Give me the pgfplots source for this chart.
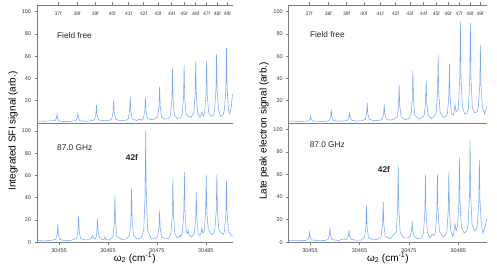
\documentclass[border=0pt]{standalone}
\usepackage{fontspec}
\setmainfont{Liberation Sans}
\usepackage{pgfplots}
\usepackage{pgfplotstable}
\pgfplotsset{compat=1.18}
\definecolor{spec}{RGB}{120,168,252}
\definecolor{ax}{RGB}{125,125,125}
\definecolor{tl}{RGB}{60,60,60}

% x values are omega_2 - 30450 (cm^-1)
\pgfplotstableread{
x y
0.5 1.8
2 1.5
3.5 2
4.19 2.0
4.47 4.1
4.59 8
4.71 4.1
4.99 2.0
6 1.3
7.5 1.5
8.45 2.1
8.73 4.5
8.85 9
8.97 4.5
9.25 2.1
10.5 1.5
11.5 1.8
12.25 2.9
12.53 7.5
12.65 16
12.77 7.5
13.05 2.9
14 2
15.2 2.2
15.76 3.5
16.04 9.4
16.16 20.5
16.28 9.4
16.56 3.5
17.5 2
18.7 2.5
19.14 3.8
19.42 10.8
19.54 24
19.66 10.8
19.94 3.8
20.8 2.2
21.5 3.5
21.9 2.5
22.25 4.1
22.53 10.7
22.65 23
22.77 10.7
23.05 4.1
23.8 3
24.5 3.5
25.15 5.4
25.43 15
25.55 33
25.67 15
25.95 5.4
26.6 3.5
27.4 4
27.78 7.1
28.06 21.7
28.18 49
28.30 21.7
28.58 7.1
29.2 4
29.9 5
30.16 7.8
30.44 23.2
30.56 52
30.68 23.2
30.96 7.8
31.5 6
32.0 5
32.53 9
32.81 25
32.93 55
33.05 25
33.33 9
33.8 5
34.2 10
34.5 6
34.76 10
35.04 26.4
35.16 57
35.28 26.4
35.56 10
36.0 6
36.5 7
36.79 11.4
37.07 29
37.19 62
37.31 29
37.59 12
38.0 6
38.6 8
38.82 12.7
39.10 31.6
39.22 67
39.34 31.6
39.62 12
39.9 8
40.2 15
40.45 26
}\LT

\pgfplotstableread{
x y
0.5 1.5
2 1.3
3.5 1.8
4.34 2.7
4.62 7.3
4.74 16
4.86 7.3
5.14 2.7
6 1.5
7.5 1.8
8.6 3.3
8.88 10.5
9.0 24
9.12 10.5
9.4 3.3
10.5 2
11.3 3
11.6 4
11.84 6
12.1 3.5
12.4 3
12.6 5
12.73 10.2
12.85 21
12.97 10.2
13.25 4.4
13.9 2
14.25 3
14.39 5
14.55 2.5
15.3 2
16.02 5.2
16.30 18
16.42 42
16.54 18
16.82 5.2
17.8 2.5
18.8 3
19.41 6.1
19.69 20.7
19.81 48
19.93 20.7
20.21 6.1
21 3
21.8 4
22.31 10.8
22.59 41.8
22.71 100
22.83 41.8
23.11 10.8
23.8 3.5
24.6 3
25.15 5
25.43 13
25.55 28
25.67 13
25.95 5
26.7 3
27.4 3.5
27.87 7.8
28.15 24.9
28.27 57
28.39 24.9
28.67 7.8
29.2 4
29.6 5
29.75 6.5
29.9 5
30.22 8.7
30.50 27.6
30.62 63
30.74 27.6
31.02 8.7
31.25 8
31.37 11
31.55 7
32.1 5
32.65 8.2
32.93 21
33.05 45
33.17 21
33.45 8
33.8 6
34.05 9
34.2 13
34.4 8
34.7 10
34.96 28
35.08 60
35.2 28
35.5 11
35.75 10
36.2 7
36.6 8
36.85 11.3
37.13 28.6
37.25 61
37.37 28.6
37.65 11.3
38.2 8
38.6 7
38.82 11
39.10 26
39.22 55
39.34 26
39.62 11
40.0 7
40.45 5
}\LB

\pgfplotstableread{
x y
0.7 1.8
2.5 1.5
4 1.6
4.72 1.9
5.0 3.3
5.12 6
5.24 3.3
5.52 1.9
6.8 1.5
8.2 1.5
8.9 2.3
9.18 5.7
9.30 12
9.42 5.7
9.7 2.3
10.8 1.6
12.1 2
12.6 2.6
12.88 4.8
13.0 9
13.12 4.8
13.4 2.6
14.3 1.7
15.5 2
16.18 3.3
16.46 8.4
16.58 18
16.70 8.4
16.98 3.3
18 2
19.2 2.5
19.61 3.7
19.89 8.3
20.01 17
20.13 8.3
20.41 3.7
21.2 2.5
22.0 3.5
22.64 5.5
22.92 15.4
23.04 34
23.16 15.4
23.44 5.5
24.3 3
25.0 4
25.41 7
25.69 21
25.81 47
25.93 21
26.21 7
27.0 3.5
27.7 5
28.09 6.8
28.37 18
28.49 39
28.61 18
28.89 6.8
29.6 4
30.2 6
30.52 9.5
30.80 27.4
30.92 61
31.04 27.4
31.32 9.5
32.0 5
32.5 6
32.8 8.8
33.08 24.2
33.2 53
33.32 24.2
33.6 8.8
34.0 7
34.2 12
34.35 16
34.55 10
35.0 13
35.30 41
35.42 91
35.54 41
35.82 14.6
36.3 8
36.8 9
37.04 13.6
37.32 40
37.44 90
37.56 40
37.84 13.6
38.3 9
38.8 10
39.06 15
39.34 34
39.46 70
39.58 34
39.86 15
40.3 8
40.8 15
}\RT

\pgfplotstableread{
x y
0.7 1.5
2.5 1.5
4 1.6
4.52 2.1
4.80 4.5
4.92 9
5.04 4.5
5.32 2.1
6.8 1.5
8.0 1.6
8.64 2.4
8.92 6.1
9.04 13
9.16 6.1
9.44 2.4
10.8 1.6
11.87 3
12.3 2
12.48 2.7
12.76 5.6
12.88 11
13.0 5.6
13.28 2.7
14.3 1.8
15.4 2
16.03 4.4
16.31 14
16.43 32
16.55 14
16.83 4.4
17.8 2
18.9 3
19.41 5.6
19.69 16.2
19.81 36
19.93 16.2
20.21 5.6
21.2 3
22.2 8
22.44 9
22.72 30
22.84 68
22.96 30
23.24 9
23.9 4
24.8 4
25.27 5.2
25.55 10
25.67 19
25.79 10
26.07 5.2
26.8 3
27.6 4
27.95 8.5
28.23 26.4
28.35 60
28.47 26.4
28.75 8.5
29.3 4
29.7 7
30.1 6
30.38 9.4
30.66 27
30.78 60
30.90 27
31.18 9.4
31.9 5
32.4 6
32.68 9.6
32.96 28
33.08 62
33.20 28
33.48 9.6
33.9 5
34.2 12
34.35 16
34.55 10
34.82 14
35.10 35
35.22 75
35.34 35
35.62 14
36.2 8
36.7 10
36.98 15.5
37.26 41
37.38 90
37.50 41
37.78 15.5
38.3 10
38.7 12
38.86 16
39.14 36
39.26 73
39.38 36
39.66 16
40.0 8
40.4 14
40.8 21
}\RB

\tikzset{ann/.style={font=\fontsize{8.3}{10}\selectfont, text=black!85}}

\pgfplotsset{
  panel/.style={
    scale only axis,
    axis y line*=left,
    axis x line*=box,
    axis line style={ax, line width=0.6pt},
    tick style={ax, line width=0.5pt},
    tick align=outside,
    major tick length=2.5pt,
    ticklabel style={font=\fontsize{5.5}{6}\selectfont, text=tl},
    /pgf/number format/assume math mode=true,
    scaled x ticks=false,
    ytick pos=left,
  },
  toppanel/.style={
    panel,
    height=118pt, ymin=0, ymax=106,
    ytick={20,40,60,80,100},
    xtick={4.83,8.7,12.4,15.9,19.2,22.3,25.2,28.0,30.55,32.93,35.16,37.35,39.38},
    xticklabels={37f,38f,39f,40f,41f,42f,43f,44f,45f,46f,47f,48f,49f},
    xtick pos=upper, xticklabel pos=upper,
    xticklabel style={anchor=north, yshift=-5.5pt, font=\fontsize{5}{5}\selectfont},
  },
  botpanel/.style={
    panel,
    height=119.3pt, ymin=0,
    ytick={0,20,40,60,80,100},
    xtick={5,15,25,35},
    xticklabels={30455,30465,30475,30485},
    xtick pos=lower, xticklabel pos=lower,
    xlabel={ω\textsubscript{2} (cm\textsuperscript{-1})},
    xlabel style={font=\fontsize{10}{12}\selectfont, at={(axis description cs:0.5,-0.13)}, anchor=center},
  },
}

\begin{document}
\begin{tikzpicture}
\useasboundingbox (0,0) rectangle (497pt,271pt);

% left, top
\begin{axis}[toppanel, at={(37pt,148pt)}, anchor=south west, width=195.5pt, xmin=0.5, xmax=40.45]
\addplot[spec, line width=0.55pt] table {\LT};
\node[ann, anchor=west] at (axis cs:3.9,79) {Field free};
\end{axis}

% left, bottom
\begin{axis}[botpanel, at={(37pt,28.7pt)}, anchor=south west, width=195.5pt, xmin=0.5, xmax=40.45, ymax=107]
\addplot[spec, line width=0.55pt] table {\LB};
\node[ann, anchor=west] at (axis cs:3.9,84.8) {87.0 GHz};
\node[ann, font=\fontsize{8.3}{10}\bfseries] at (axis cs:19.9,76.2) {42f};
\end{axis}

% right, top
\begin{axis}[toppanel, at={(288.7pt,148pt)}, anchor=south west, width=198.3pt, xmin=0.7, xmax=40.8]
\addplot[spec, line width=0.55pt] table {\RT};
\node[ann, anchor=west] at (axis cs:4.3,79.7) {Field free};
\end{axis}

% right, bottom
\begin{axis}[botpanel, at={(288.7pt,28.7pt)}, anchor=south west, width=198.3pt, xmin=0.7, xmax=40.8, ymax=105.5]
\addplot[spec, line width=0.55pt] table {\RB};
\node[ann, anchor=west] at (axis cs:4.25,86.6) {87.0 GHz};
\node[ann, font=\fontsize{8.3}{10}\bfseries] at (axis cs:19.95,64.2) {42f};
\end{axis}

\node[rotate=90, font=\fontsize{10}{12}\selectfont] at (13pt,140pt) {Integrated SFI signal (arb.)};
\node[rotate=90, font=\fontsize{10}{12}\selectfont] at (264pt,140pt) {Late peak electron signal (arb.)};
\end{tikzpicture}
\end{document}
